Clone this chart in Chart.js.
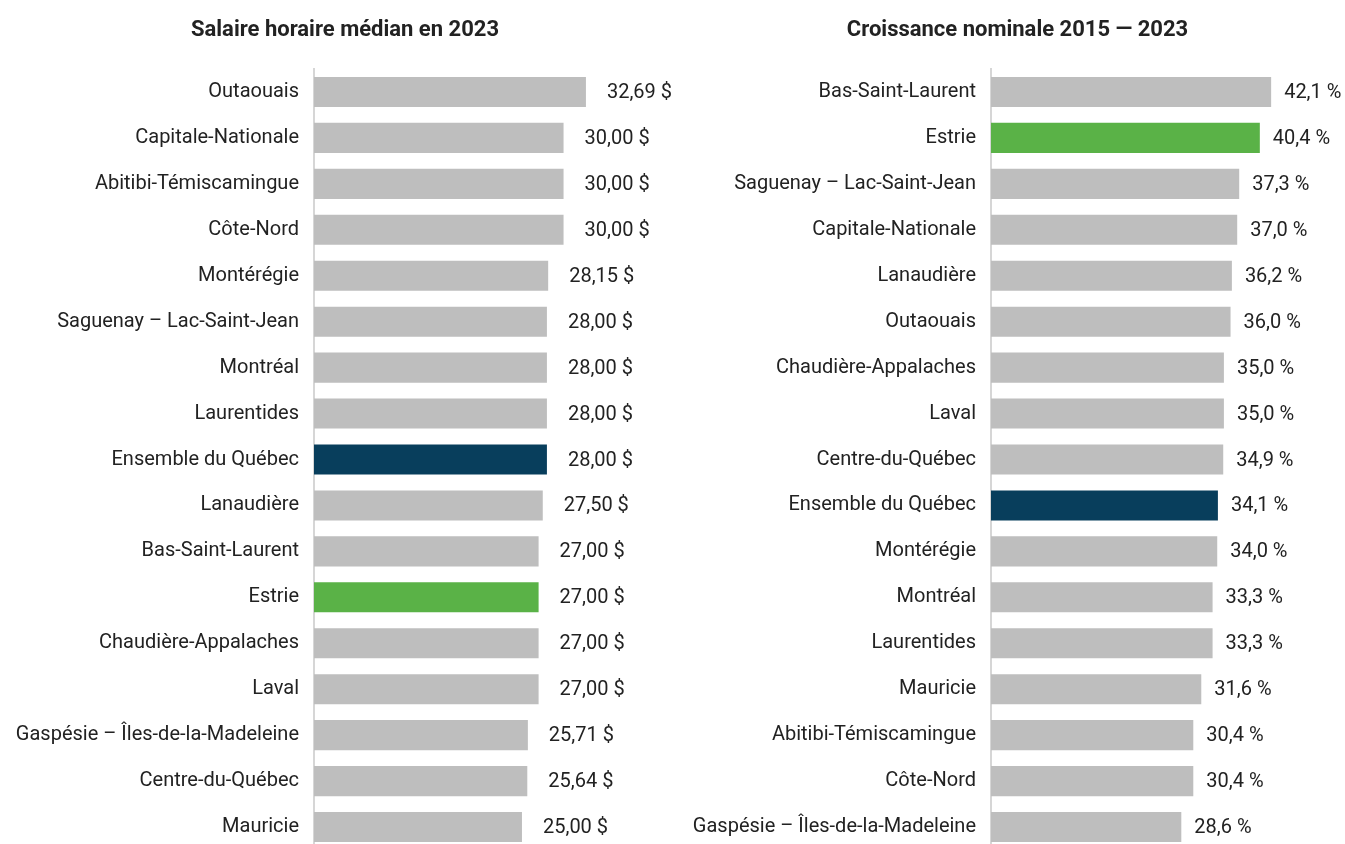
<!DOCTYPE html>
<html lang="fr">
<head>
<meta charset="utf-8">
<title>Salaire horaire médian par région</title>
<script src="https://cdn.jsdelivr.net/npm/chart.js@4.4.1/dist/chart.umd.min.js"></script>
<style>
  html, body { margin: 0; padding: 0; background: #fff; overflow: hidden; }
  .contenedor { position: relative; width: 1345px; height: 844px; overflow: hidden; }
  #salaire { position: absolute; left: 0; top: 0; }
  #croissance { position: absolute; left: 690px; top: 0; }
</style>
</head>
<body>
<div class="contenedor">
  <canvas id="salaire" width="690" height="850"></canvas>
  <canvas id="croissance" width="655" height="850"></canvas>
</div>
<script>

let regionsSalaire = ['Outaouais', 'Capitale-Nationale', 'Abitibi-Témiscamingue', 'Côte-Nord', 'Montérégie',
    'Saguenay – Lac-Saint-Jean', 'Montréal', 'Laurentides', 'Ensemble du Québec', 'Lanaudière',
    'Bas-Saint-Laurent', 'Estrie', 'Chaudière-Appalaches', 'Laval', 'Gaspésie – Îles-de-la-Madeleine',
    'Centre-du-Québec', 'Mauricie'];
let salaires = [32.69, 30.00, 30.00, 30.00, 28.15, 28.00, 28.00, 28.00, 28.00, 27.50,
    27.00, 27.00, 27.00, 27.00, 25.71, 25.64, 25.00];

let regionsCroissance = ['Bas-Saint-Laurent', 'Estrie', 'Saguenay – Lac-Saint-Jean', 'Capitale-Nationale',
    'Lanaudière', 'Outaouais', 'Chaudière-Appalaches', 'Laval', 'Centre-du-Québec', 'Ensemble du Québec',
    'Montérégie', 'Montréal', 'Laurentides', 'Mauricie', 'Abitibi-Témiscamingue', 'Côte-Nord',
    'Gaspésie – Îles-de-la-Madeleine'];
let croissances = [42.1, 40.4, 37.3, 37.0, 36.2, 36.0, 35.0, 35.0, 34.9, 34.1,
    34.0, 33.3, 33.3, 31.6, 30.4, 30.4, 28.6];

let gris = '#bebebe';
let marine = '#083e5c';
let vert = '#5ab247';
let texte = '#222222';
let police = 'Roboto, "Noto Sans", sans-serif';

function couleurs(regions) {
    return regions.map(r => r === 'Ensemble du Québec' ? marine : (r === 'Estrie' ? vert : gris));
}

function virgule(v, dec) {
    return v.toFixed(dec).replace('.', ',');
}

// étiquettes de valeur à droite des barres
let etiquettes = {
    id: 'etiquettes',
    afterDatasetsDraw(chart, args, opts) {
        let ctx = chart.ctx;
        let meta = chart.getDatasetMeta(0);
        ctx.save();
        ctx.font = '20px ' + police;
        ctx.fillStyle = texte;
        ctx.textAlign = 'left';
        ctx.textBaseline = 'middle';
        meta.data.forEach((bar, i) => {
            let v = chart.data.datasets[0].data[i];
            ctx.fillText(opts.format(v), bar.x + opts.decalage, bar.y + 1);
        });
        ctx.restore();
    }
};

function options(titre, max, largeurAxe, format, decalage) {
    return {
        indexAxis: 'y',
        responsive: false,
        animation: false,
        layout: { padding: 0 },
        plugins: {
            legend: { display: false },
            tooltip: { enabled: false },
            title: {
                display: true,
                text: titre,
                color: texte,
                font: { family: police, size: 22, weight: 'bold' },
                padding: { top: 17, bottom: 25.6 }
            },
            etiquettes: { format: format, decalage: decalage }
        },
        scales: {
            x: {
                display: false,
                min: 0,
                max: max
            },
            y: {
                grid: { display: false, drawTicks: false },
                border: { display: true, color: '#d6d6d6', width: 2 },
                ticks: {
                    color: texte,
                    font: { family: police, size: 20 },
                    padding: 15,
                    autoSkip: false
                },
                afterFit(scale) {
                    scale.width = largeurAxe;
                    scale.paddingTop = 0;
                    scale.paddingBottom = 0;
                }
            }
        }
    };
}

let salaire = new Chart(document.getElementById('salaire').getContext('2d'), {
    type: 'bar',
    data: {
        labels: regionsSalaire,
        datasets: [{
            data: salaires,
            backgroundColor: couleurs(regionsSalaire),
            barPercentage: 0.655,
            categoryPercentage: 1
        }]
    },
    options: options('Salaire horaire médian en 2023', 45.2, 314, v => virgule(v, 2) + ' $', 21),
    plugins: [etiquettes]
});

let croissance = new Chart(document.getElementById('croissance').getContext('2d'), {
    type: 'bar',
    data: {
        labels: regionsCroissance,
        datasets: [{
            data: croissances,
            backgroundColor: couleurs(regionsCroissance),
            barPercentage: 0.655,
            categoryPercentage: 1
        }]
    },
    options: options('Croissance nominale 2015 — 2023', 53.2, 301, v => virgule(v, 1) + ' %', 13),
    plugins: [etiquettes]
});

</script>
</body>
</html>
